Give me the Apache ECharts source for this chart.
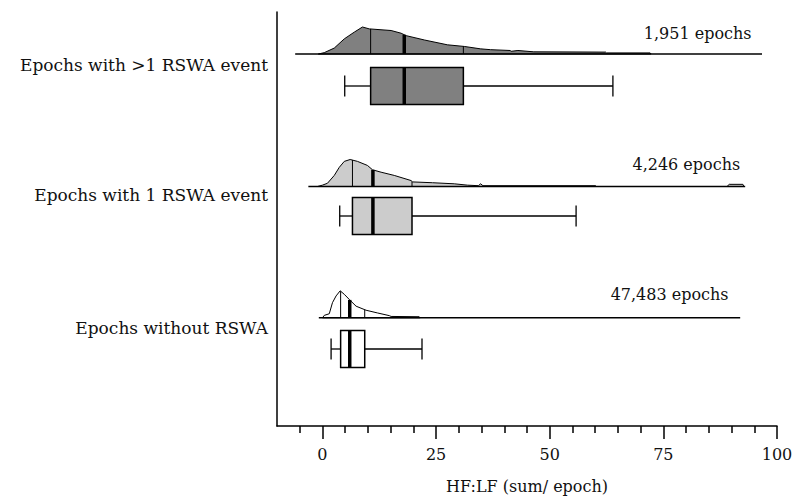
<!DOCTYPE html>
<html><head><meta charset="utf-8">
<script src="https://cdn.jsdelivr.net/npm/echarts@6/dist/echarts.min.js"></script>
<style>html,body{margin:0;padding:0;background:#fff}#c{width:798px;height:503px}</style>
</head><body><div id="c"></div>
<script>
// ---- data ----
const categories = ['Epochs with >1 RSWA event', 'Epochs with 1 RSWA event', 'Epochs without RSWA'];
const epochLabels = ['1,951 epochs', '4,246 epochs', '47,483 epochs'];
// [lower whisker, Q1, median, Q3, upper whisker]
const boxStats = [
  [4.9, 10.6, 18.0, 31.0, 63.9],
  [3.8, 6.6, 11.1, 19.7, 55.8],
  [1.9, 4.0, 6.0, 9.3, 21.9]
];
// extent of each density's base line
const baselineRange = [[-6, 96.7], [-3.1, 93], [-0.8, 91.9]];
// densities (relative, % of peak)
const densityX1 = [-0.9, 0.4, 2.6, 4.8, 7.0, 8.8, 10.3, 15.1, 17.3, 18.4, 22.4, 27.5, 31.2, 34.8, 37.0, 41.3, 41.5, 43.0, 46.5, 62.3, 62.5, 72.1, 72.3];
const densityY1 = [0, 5, 22, 56, 81, 100, 93, 87, 77, 68, 52, 34, 28, 19, 16, 13, 10, 13, 8, 7, 4, 4, 0];
const densityX2 = [-1.1, 0.0, 1.1, 2.6, 3.7, 4.8, 6.1, 7.7, 9.9, 11.0, 12.9, 15.8, 19.5, 19.8, 24.2, 29.0, 31.9, 34.3, 34.8, 35.3, 60.1, 60.3, 89.0, 89.5, 92.5, 92.7];
const densityY2 = [0, 5, 12, 41, 71, 93, 100, 93, 78, 62, 53, 41, 22, 17, 14, 10, 5, 3, 10, 3, 3, 0, 0, 8, 8, 0];
const densityX3 = [0.0, 0.4, 1.5, 2.2, 3.0, 3.9, 4.8, 5.9, 7.4, 9.6, 12.1, 14.7, 15.1, 21.3, 21.5];
const densityY3 = [0, 9, 15, 56, 81, 100, 87, 68, 43, 28, 18, 8, 5, 4, 0];
const xTicks = [0, 25, 50, 75, 100];
const xMinorTicks = [-5, 5, 10, 15, 20, 30, 35, 40, 45, 55, 60, 65, 70, 80, 85, 90, 95];
const axisTitle = 'HF:LF (sum/ epoch)';

// ---- layout / style ----
const densityX = [densityX1, densityX2, densityX3];
const densityY = [densityY1, densityY2, densityY3];
const fills = ['#808080', '#cccccc', '#ffffff'];
const rowBaseline = [42, 174.5, 305.8];
const rowBoxCenter = [74, 204, 337];
const boxHalf = 18.5, capHalf = 10.5, densityScale = 27;
const epochLabelX = [70.7, 68.2, 63.4];
const epochLabelY = [21, 152.5, 282.5];
const catLabelY = [53, 182.5, 316];
const FONT = 'DejaVu Serif';

function interp(xs, ys, x) {
  for (let k = 1; k < xs.length; k++) {
    if (x <= xs[k]) {
      const t = (x - xs[k - 1]) / (xs[k] - xs[k - 1]);
      return ys[k - 1] + t * (ys[k] - ys[k - 1]);
    }
  }
  return 0;
}

function renderItem(params, api) {
  const i = api.value(0);
  const base = rowBaseline[i];
  const xs = densityX[i], ds = densityY[i];
  const st = boxStats[i];
  const ch = [];
  const pts = xs.map((x, k) => api.coord([x, base - ds[k] * densityScale / 100]));
  pts.push(api.coord([xs[xs.length - 1], base]));
  pts.unshift(api.coord([xs[0], base]));
  ch.push({ type: 'polygon', shape: { points: pts }, style: { fill: fills[i], stroke: '#000', lineWidth: 1 } });
  const b0 = api.coord([baselineRange[i][0], base]);
  const b1 = api.coord([baselineRange[i][1], base]);
  ch.push({ type: 'line', shape: { x1: b0[0], y1: b0[1], x2: b1[0], y2: b1[1] }, style: { stroke: '#000', lineWidth: 1.6 } });
  [1, 2, 3].forEach(q => {
    const v = st[q];
    const h = interp(xs, ds, v) * densityScale / 100;
    const p0 = api.coord([v, base]);
    const p1 = api.coord([v, base - h]);
    ch.push({ type: 'line', shape: { x1: p0[0], y1: p0[1], x2: p1[0], y2: p1[1] }, style: { stroke: '#000', lineWidth: q === 2 ? 3.5 : 1 } });
  });
  // box plot
  const c = rowBoxCenter[i];
  const lo = api.coord([st[0], c]), q1 = api.coord([st[1], c - boxHalf]), q3 = api.coord([st[3], c + boxHalf]);
  const med = api.coord([st[2], c]), hi = api.coord([st[4], c]);
  const cy = lo[1];
  const capTop = api.coord([st[0], c - capHalf])[1], capBot = api.coord([st[0], c + capHalf])[1];
  ch.push({ type: 'line', shape: { x1: lo[0], y1: cy, x2: q1[0], y2: cy }, style: { stroke: '#000', lineWidth: 1.3 } });
  ch.push({ type: 'line', shape: { x1: q3[0], y1: cy, x2: hi[0], y2: cy }, style: { stroke: '#000', lineWidth: 1.3 } });
  ch.push({ type: 'line', shape: { x1: lo[0], y1: capTop, x2: lo[0], y2: capBot }, style: { stroke: '#000', lineWidth: 1.3 } });
  ch.push({ type: 'line', shape: { x1: hi[0], y1: capTop, x2: hi[0], y2: capBot }, style: { stroke: '#000', lineWidth: 1.3 } });
  ch.push({ type: 'rect', shape: { x: q1[0], y: q1[1], width: q3[0] - q1[0], height: q3[1] - q1[1] }, style: { fill: fills[i], stroke: '#000', lineWidth: 1.5 } });
  ch.push({ type: 'line', shape: { x1: med[0], y1: q1[1], x2: med[0], y2: q3[1] }, style: { stroke: '#000', lineWidth: 3.5 } });
  // texts
  const el = api.coord([epochLabelX[i], epochLabelY[i]]);
  ch.push({ type: 'text', x: el[0], y: el[1], style: { text: epochLabels[i], fontFamily: FONT, fontSize: 16, fill: '#111', align: 'left', verticalAlign: 'middle' } });
  const cl = api.coord([-10, catLabelY[i]]);
  ch.push({ type: 'text', x: cl[0] - 9, y: cl[1], style: { text: categories[i], fontFamily: FONT, fontSize: 17, fill: '#111', align: 'right', verticalAlign: 'middle' } });
  return { type: 'group', children: ch };
}

const chart = echarts.init(document.getElementById('c'), null, { renderer: 'svg' });
chart.setOption({
  animation: false,
  backgroundColor: '#fff',
  grid: { left: 277, top: 12, width: 500, height: 414 },
  xAxis: [{
    type: 'value', min: -10, max: 100,
    axisLine: { onZero: false, lineStyle: { color: '#000', width: 1.5 } },
    axisTick: { customValues: xTicks, length: 13, lineStyle: { color: '#000', width: 1.5 } },
    axisLabel: { customValues: xTicks, margin: 20, fontFamily: FONT, fontSize: 16, color: '#111' },
    splitLine: { show: false },
    name: axisTitle, nameLocation: 'middle', nameGap: 52,
    nameTextStyle: { fontFamily: FONT, fontSize: 16, color: '#111' }
  }, {
    type: 'value', min: -10, max: 100, position: 'bottom',
    axisLine: { show: false, onZero: false },
    axisTick: { customValues: xMinorTicks, length: 7, lineStyle: { color: '#000', width: 1.5 } },
    axisLabel: { show: false },
    splitLine: { show: false }
  }],
  yAxis: {
    type: 'value', min: 0, max: 414, inverse: true,
    axisLine: { show: true, onZero: false, lineStyle: { color: '#000', width: 1.5 } },
    axisTick: { show: false }, axisLabel: { show: false }, splitLine: { show: false }
  },
  series: [{
    type: 'custom',
    renderItem: renderItem,
    clip: false,
    data: categories.map((c, i) => [i]),
    encode: { x: -1, y: -1 },
    silent: true
  }]
});
</script>
</body></html>
